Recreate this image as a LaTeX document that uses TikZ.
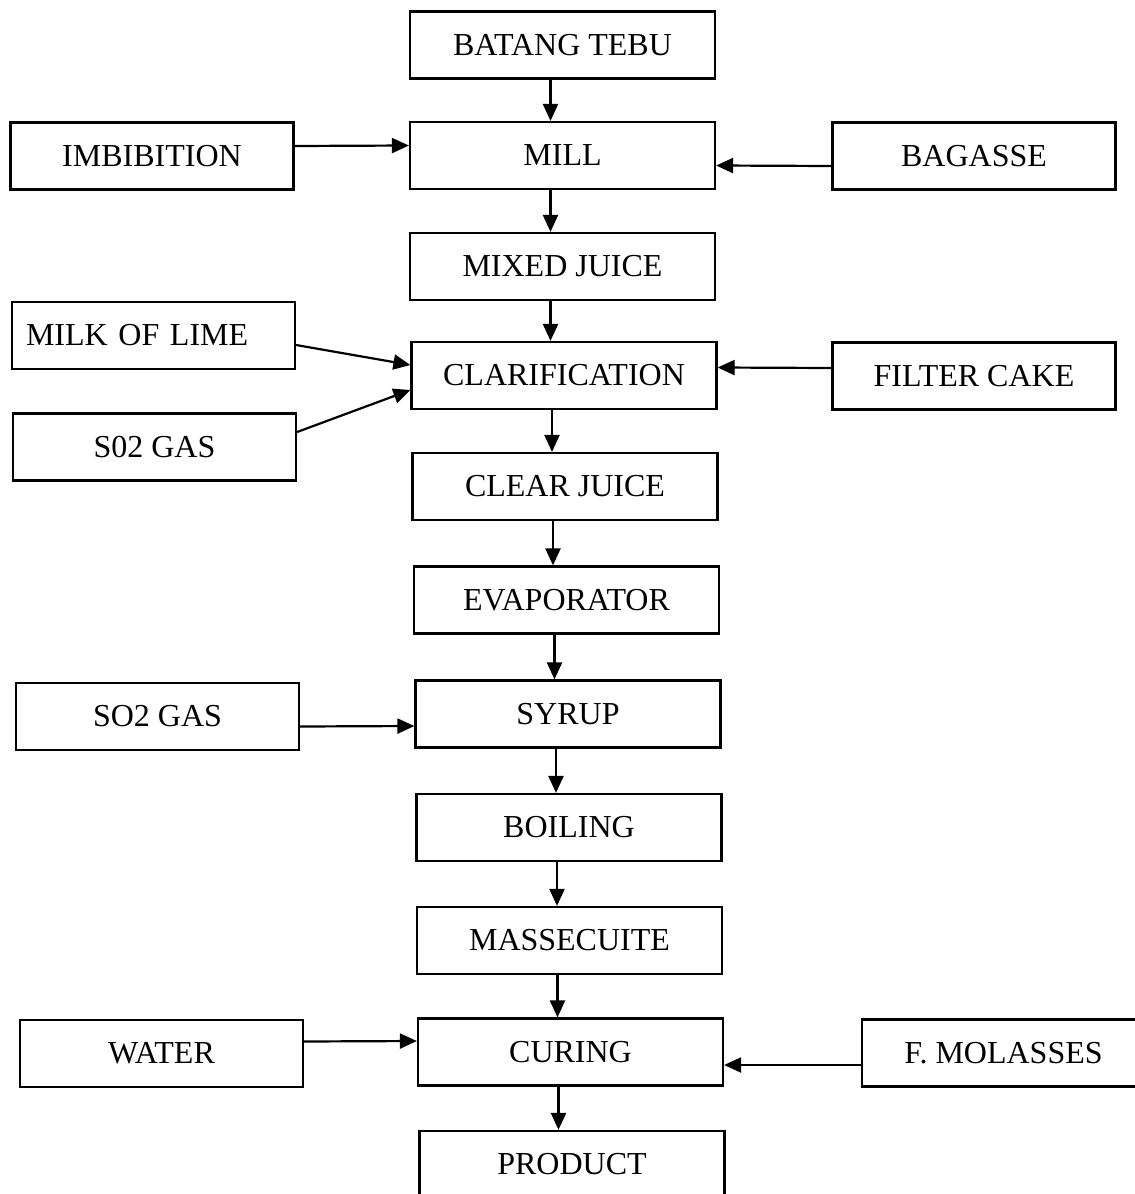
\documentclass[tikz,border=0pt]{standalone}
\usepackage{fontspec}
\setmainfont{Liberation Serif}
\usepackage{tikz}
\usetikzlibrary{arrows.meta}

\begin{document}
\begin{tikzpicture}[x=0.5pt, y=-0.5pt,
  every node/.style={font=\fontsize{16}{19}\selectfont},
  stage/.style={draw, line width=1.1pt, rectangle, inner sep=0pt,
    minimum width=152.5pt, minimum height=33.5pt},
  feed/.style={stage, minimum width=141.5pt},
  flow/.style={line width=1.1pt, -{Triangle[length=8.5pt,width=7.5pt]}}]

  \useasboundingbox (0,0) rectangle (1135,1194);

  \node[stage] (tebu) at (562.5,45) {BATANG TEBU};
  \node[stage] (mill) at (562.5,155.5) {MILL};
  \node[stage] (mixed) at (562.5,266.5) {MIXED JUICE};
  \node[stage] (clarif) at (564,375.5) {CLARIFICATION};
  \node[stage] (clear) at (565,486.5) {CLEAR JUICE};
  \node[stage] (evap) at (566.5,600) {EVAPORATOR};
  \node[stage] (syrup) at (568,714) {SYRUP};
  \node[stage] (boil) at (569,827.5) {BOILING};
  \node[stage] (masse) at (569.5,940.5) {MASSECUITE};
  \node[stage] (curing) at (570.5,1052) {CURING};
  \node[stage] (product) at (572,1164.5) {PRODUCT};

  \node[feed] (imb) at (152,156) {IMBIBITION};
  \node[feed, text width=127.5pt, align=left] (milk) at (153.5,335.5) {MILK OF LIME};
  \node[feed] (gasa) at (154.5,447) {S02 GAS};
  \node[feed] (gasb) at (157.5,716.5) {SO2 GAS};
  \node[feed] (water) at (161.5,1053.5) {WATER};
  \node[feed] (bagasse) at (974,156) {BAGASSE};
  \node[feed] (filter) at (974,376) {FILTER CAKE};
  \node[feed] (molasses) at (1003.5,1053) {F. MOLASSES};

  \foreach \a/\b in {tebu/mill, mill/mixed, mixed/clarif, clarif/clear,
  clear/evap, evap/syrup, syrup/boil, boil/masse, masse/curing,
  curing/product}
    \draw[flow] ([xshift=-6pt]\a.south) -- ([xshift=-6pt]\a.south |- \b.north);

  \draw[flow] ([yshift=5pt]imb.east) -- ([yshift=5pt]mill.west);
  \draw[flow] ([yshift=-5pt]bagasse.west) -- ([yshift=-5pt]mill.east);
  \draw[flow] ([yshift=-4.75pt]milk.east) -- ([yshift=5.25pt]clarif.west);
  \draw[flow] ([yshift=7.5pt]gasa.east) -- ([yshift=-7.25pt]clarif.west);
  \draw[flow] ([yshift=4pt]filter.west) -- ([yshift=4pt]clarif.east);
  \draw[flow] ([yshift=-5pt]gasb.east) -- ([yshift=-6pt]syrup.west);
  \draw[flow] ([yshift=6pt]water.east) -- ([yshift=5.5pt]curing.west);
  \draw[flow] ([yshift=-6pt]molasses.west) -- ([yshift=-6.5pt]curing.east);
\end{tikzpicture}
\end{document}
